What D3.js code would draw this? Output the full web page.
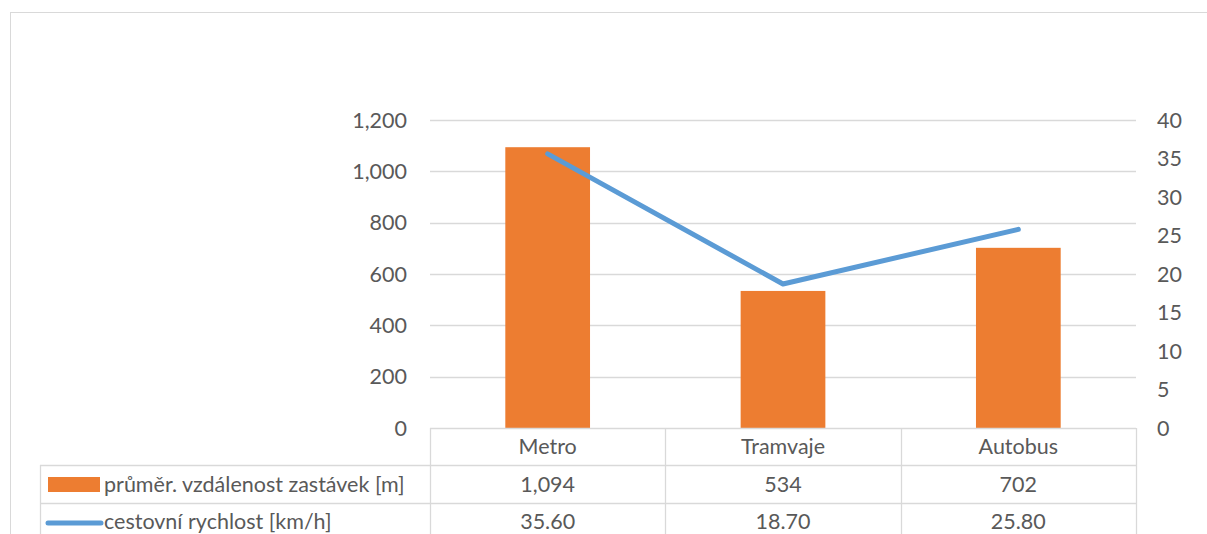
<!DOCTYPE html>
<html><head><meta charset="utf-8">
<script src="https://cdn.jsdelivr.net/npm/d3@7"></script>
<style>body{margin:0;background:#fff}svg{display:block}text{font-family:Lato,"Open Sans",sans-serif;fill:#595959}</style>
</head><body>
<script>
const categories = ["Metro","Tramvaje","Autobus"];
const distance = [1094,534,702];
const speed = [35.6,18.7,25.8];
const distanceLabels = ["1,094","534","702"];
const speedLabels = ["35.60","18.70","25.80"];
const leftTicks = [0,200,400,600,800,1000,1200];
const rightTicks = [0,5,10,15,20,25,30,35,40];
const seriesNames = ["průměr. vzdálenost zastávek [m]","cestovní rychlost [km/h]"];

const W=1207,H=534,FS=21.5;
const svg=d3.select("body").append("svg").attr("width",W).attr("height",H);
const grid="#d9d9d9", orange="#ED7D31", blue="#5B9BD5";
// outer border
svg.append("rect").attr("x",10.5).attr("y",12.5).attr("width",1230).attr("height",600).attr("fill","none").attr("stroke",grid);

const x0=430,x1=1136,yTop=120,yBot=428;
const x=d3.scaleBand().domain(categories).range([x0,x1]);
const yL=d3.scaleLinear().domain([0,1200]).range([yBot,yTop]);
const yR=d3.scaleLinear().domain([0,40]).range([yBot,yTop]);

// gridlines
svg.append("g").selectAll("line").data(leftTicks.slice(1)).join("line")
 .attr("x1",x0).attr("x2",x1).attr("y1",d=>Math.round(yL(d))+0.5).attr("y2",d=>Math.round(yL(d))+0.5)
 .attr("stroke",grid).attr("stroke-width",1.3);

// left axis labels
const fmt=d3.format(",");
svg.append("g").selectAll("text").data(leftTicks).join("text")
 .attr("x",407).attr("y",d=>yL(d)).attr("dy","0.35em").attr("text-anchor","end")
 .attr("font-size",FS).text(d=>fmt(d));
// right axis labels
svg.append("g").selectAll("text").data(rightTicks).join("text")
 .attr("x",1157).attr("y",d=>yR(d)).attr("dy","0.35em").attr("text-anchor","start")
 .attr("font-size",FS).text(d=>d);

// bars
const bw=x.bandwidth()*0.36;
svg.append("g").selectAll("rect").data(distance).join("rect")
 .attr("x",(d,i)=>x(categories[i])+x.bandwidth()/2-bw/2).attr("width",bw)
 .attr("y",d=>yL(d)).attr("height",d=>yBot-yL(d)).attr("fill",orange);

// line
const line=d3.line().x((d,i)=>x(categories[i])+x.bandwidth()/2).y(d=>yR(d));
svg.append("path").datum(speed).attr("d",line).attr("fill","none").attr("stroke",blue)
 .attr("stroke-width",5).attr("stroke-linecap","round").attr("stroke-linejoin","round");

// data table
const rows=[yBot,465,503,540];
const tg=svg.append("g").attr("stroke",grid).attr("stroke-width",1.3);
tg.append("line").attr("x1",x0).attr("x2",x1).attr("y1",yBot+0.5).attr("y2",yBot+0.5);
tg.append("line").attr("x1",40).attr("x2",x1).attr("y1",rows[1]+0.5).attr("y2",rows[1]+0.5);
tg.append("line").attr("x1",40).attr("x2",x1).attr("y1",rows[2]+0.5).attr("y2",rows[2]+0.5);
const vx=[x0,...categories.map(c=>x(c)+x.bandwidth())];
vx.forEach(v=>tg.append("line").attr("x1",Math.round(v)+0.5).attr("x2",Math.round(v)+0.5).attr("y1",yBot).attr("y2",H));
tg.append("line").attr("x1",40.5).attr("x2",40.5).attr("y1",rows[1]).attr("y2",H);

svg.append("g").selectAll("text").data(categories).join("text")
 .attr("x",d=>x(d)+x.bandwidth()/2).attr("y",(rows[0]+rows[1])/2).attr("dy","0.35em")
 .attr("text-anchor","middle").attr("font-size",FS).text(d=>d);
svg.append("g").selectAll("text").data(distanceLabels).join("text")
 .attr("x",(d,i)=>x(categories[i])+x.bandwidth()/2).attr("y",(rows[1]+rows[2])/2).attr("dy","0.35em")
 .attr("text-anchor","middle").attr("font-size",FS).text(d=>d);
svg.append("g").selectAll("text").data(speedLabels).join("text")
 .attr("x",(d,i)=>x(categories[i])+x.bandwidth()/2).attr("y",(rows[2]+rows[3])/2).attr("dy","0.35em")
 .attr("text-anchor","middle").attr("font-size",FS).text(d=>d);

// legend keys
svg.append("rect").attr("x",48).attr("y",477).attr("width",52).attr("height",15).attr("fill",orange);
svg.append("line").attr("x1",48).attr("x2",101).attr("y1",523).attr("y2",523).attr("stroke",blue).attr("stroke-width",5).attr("stroke-linecap","round");
svg.append("text").attr("x",104).attr("y",(rows[1]+rows[2])/2).attr("dy","0.35em").attr("font-size",FS).text(seriesNames[0]);
svg.append("text").attr("x",104).attr("y",(rows[2]+rows[3])/2).attr("dy","0.35em").attr("font-size",FS).text(seriesNames[1]);
</script>
</body></html>
